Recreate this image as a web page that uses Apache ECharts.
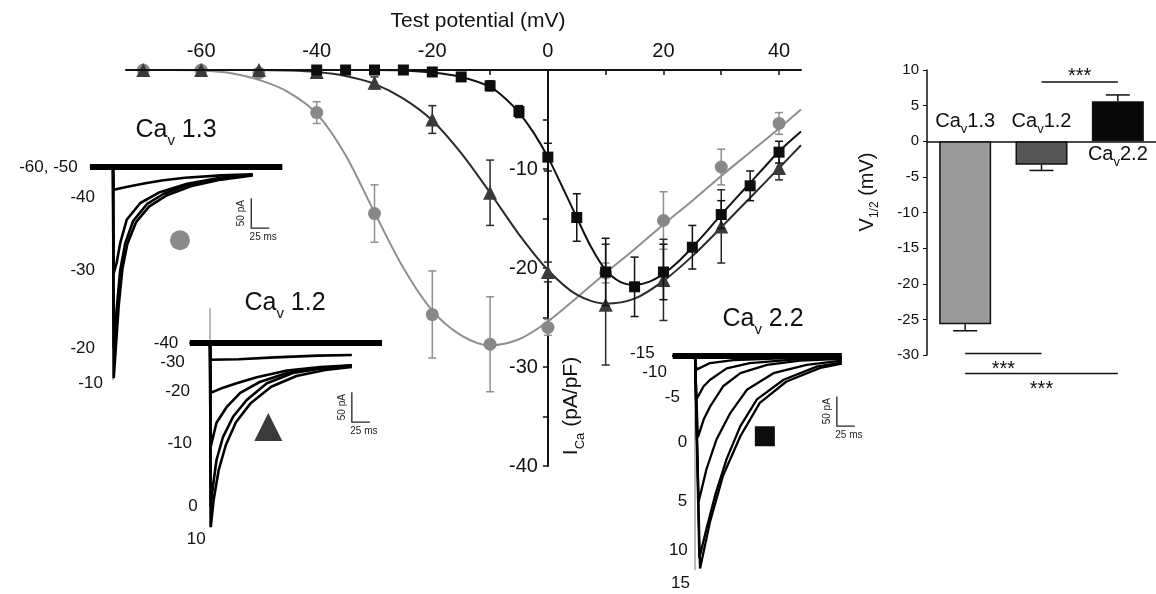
<!DOCTYPE html>
<html><head><meta charset="utf-8">
<script src="https://cdn.jsdelivr.net/npm/echarts@6/dist/echarts.min.js"></script>
<style>html,body{margin:0;padding:0;background:#fff}#c{width:1156px;height:594px}</style>
</head><body><div id="c"></div><script>
// ================= I-V relationship (main panel) =================
const xTickLabels = [-60, -40, -20, 0, 20, 40];
const xTicks = [-70, -60, -50, -40, -30, -20, -10, 0, 10, 20, 30, 40];
const yTickLabels = [-10, -20, -30, -40];
const yTicks = [-5, -10, -15, -20, -25, -30, -35, -40];

// Cav1.3 (grey circles)
const vCav13 = [-70, -60, -50, -40, -30, -20, -10, 0, 10, 20, 30, 40];
const iCav13 = [0, 0, -0.3, -4.3, -14.5, -24.7, -27.7, -26.0, -20.5, -15.2, -9.8, -5.4];
const eCav13 = [0, 0, 0.3, 1.1, 2.9, 4.4, 4.8, 0.8, 1.0, 2.9, 1.8, 1.1];
// Cav1.2 (dark triangles)
const vCav12 = [-70, -60, -50, -40, -30, -20, -10, 0, 10, 20, 30, 40];
const iCav12 = [0, 0, 0, -0.2, -1.3, -5.0, -12.4, -20.4, -23.7, -21.2, -15.8, -9.9];
const eCav12 = [0, 0, 0, 0.3, 0.6, 1.4, 3.3, 1.0, 6.1, 4.1, 3.7, 1.2];
// Cav2.2 (black squares)
const vCav22 = [-40, -35, -30, -25, -20, -15, -10, -5, 0, 5, 10, 15, 20, 25, 30, 35, 40];
const iCav22 = [0, 0, 0, 0, -0.2, -0.7, -1.6, -4.2, -8.8, -14.9, -20.4, -21.9, -20.4, -17.9, -14.6, -11.7, -8.3];
const eCav22 = [0, 0, 0, 0, 0.2, 0.3, 0.5, 0.6, 1.4, 2.4, 3.4, 3.0, 2.8, 2.2, 1.4, 1.5, 1.1];

// fitted curves
const fitV13 = [-73, -65, -60, -55, -50, -45, -40, -35, -30, -25, -20, -15, -10, -5, 0, 5, 10, 15, 20, 25, 30, 35, 40, 43.8];
const fitI13 = [0, 0, -0.05, -0.3, -1.0, -2.2, -4.4, -8.6, -14.4, -20.0, -24.3, -26.8, -27.8, -27.2, -25.4, -23.0, -20.5, -18.1, -15.6, -13.2, -10.7, -8.3, -5.9, -4.0];
const fitV12 = [-73, -65, -60, -55, -50, -45, -40, -35, -30, -25, -20, -15, -10, -5, 0, 5, 10, 15, 20, 25, 30, 35, 40, 43.8];
const fitI12 = [0, 0, 0, 0, 0, -0.05, -0.2, -0.6, -1.4, -2.9, -5.1, -8.4, -12.4, -16.6, -20.2, -22.7, -23.6, -23.1, -21.3, -18.8, -15.9, -12.9, -9.9, -7.6];
const fitV22 = [-73, -60, -50, -40, -30, -25, -20, -15, -10, -7.5, -5, -2.5, 0, 2.5, 5, 7.5, 10, 12.5, 15, 17.5, 20, 22.5, 25, 27.5, 30, 32.5, 35, 37.5, 40, 43.8];
const fitI22 = [0, 0, 0, 0, 0, -0.05, -0.25, -0.7, -1.7, -2.8, -4.3, -6.3, -8.8, -11.8, -14.9, -17.9, -20.2, -21.4, -21.7, -21.4, -20.6, -19.4, -17.9, -16.3, -14.6, -13.0, -11.4, -9.8, -8.2, -6.2];

// ================= V1/2 bar panel =================
const barCats = ['Cav1.3', 'Cav1.2', 'Cav2.2'];
const barVals = [-25.7, -3.3, 5.6];
const barErr = [0.9, 0.8, 0.9];
// significance brackets: [fromCat, toCat, level]
const sigFrom = [1, 0, 0];
const sigTo = [2, 1, 2];
const sigLevel = [8.3, -29.8, -32.6];
const sigText = ['***', '***', '***'];

// ================= current trace insets [ms, pA] =================
// Cav1.3
const tr13_m60 = [[-32, 0], [235, 0]];
const tr13_m50 = [[-32, -1], [235, -1]];
const tr13_m40 = [[-32, 0], [0, 0], [1, -38], [20, -33], [45, -27], [70, -22], [100, -18], [150, -14], [194, -12]];
const tr13_m30 = [[-32, 0], [0, 0], [1, -177], [5, -160], [10, -127], [19, -88], [38, -60], [65, -42], [103, -28], [149, -18], [194, -13]];
const tr13_m20 = [[-32, 0], [0, 0], [1, -302], [5, -238], [10, -172], [17, -127], [28, -90], [47, -62], [70, -45], [103, -30], [149, -19], [194, -13]];
const tr13_m10 = [[-32, 0], [0, 0], [1, -352], [4, -300], [8, -230], [13, -170], [20, -128], [32, -92], [50, -66], [75, -47], [108, -32], [150, -21], [194, -14]];
const on13 = [[0, 0], [0, -355]];
const lab13Text = ['-60, -50', '-40', '-30', '-20', '-10'];
const lab13T = [-49, -25, -25, -25, -14];
const lab13I = [0, -50, -173, -302, -360];
// Cav1.2
const tr12_m40 = [[-28, 0], [239, 0]];
const tr12_m30 = [[-28, 0], [0, 0], [1, -28], [40, -27], [90, -24], [150, -21], [197, -20]];
const tr12_m20 = [[-28, 0], [0, 0], [1, -83], [15, -76], [37, -67], [65, -57], [107, -46], [153, -40], [197, -37]];
const tr12_m10 = [[-28, 0], [0, 0], [1, -173], [9, -133], [23, -107], [42, -83], [69, -65], [107, -50], [153, -42], [197, -37]];
const tr12_0 = [[-28, 0], [0, 0], [1, -273], [4, -240], [9, -195], [18, -157], [32, -123], [51, -95], [79, -67], [115, -50], [157, -42], [197, -38]];
const tr12_10 = [[-28, 0], [0, 0], [1, -307], [5, -262], [12, -212], [22, -170], [36, -132], [56, -101], [85, -73], [120, -55], [160, -45], [197, -40]];
const on12 = [[0, 58], [0, -307]];
const lab12Text = ['-40', '-30', '-20', '-10', '0', '10'];
const lab12T = [-44, -35, -28, -25, -17, -6];
const lab12I = [0, -32, -80, -168, -272, -328];
// Cav2.2
const tr22_m15 = [[-31, 0], [204, 0]];
const tr22_m10 = [[-31, 0], [0, 0], [2, -23], [21, -12], [53, -7], [120, -4], [204, -3]];
const tr22_m5 = [[-31, 0], [0, 0], [2, -73], [12, -51], [21, -40], [44, -21], [76, -12], [140, -6], [204, -4]];
const tr22_0 = [[-31, 0], [0, 0], [4, -137], [12, -107], [21, -85], [39, -51], [63, -29], [100, -15], [146, -8], [204, -5]];
const tr22_5 = [[-31, 0], [0, 0], [5, -245], [16, -190], [30, -140], [49, -96], [72, -57], [109, -29], [155, -15], [204, -8]];
const tr22_10 = [[-31, 0], [0, 0], [6, -340], [16, -290], [28, -234], [44, -173], [63, -118], [86, -73], [123, -40], [169, -18], [204, -11]];
const tr22_15 = [[-31, 0], [0, 0], [7, -357], [21, -278], [39, -201], [63, -135], [90, -79], [127, -43], [174, -20], [204, -13]];
const on22 = [[0, 0], [0, -360]];
const lab22Text = ['-15', '-10', '-5', '0', '5', '10', '15'];
const lab22T = [-56, -39, -21, -11, -11, -10, -7];
const lab22I = [5, -28, -70, -145, -245, -327, -382];
// scale bars (25 ms, 50 pA) anchor [ms, pA] and inset symbol positions
const scaleMs = 25, scalePA = 50;
const sb13 = [192, -52], sb12 = [197, -82], sb22 = [197, -68];
const sym13 = [93, -122], sym12 = [81, -140], sym22 = [97, -135];

// ================= build =================
const FONT = '"Liberation Sans", Arial, sans-serif';
const INK = '#111111';
const zip = (a, b) => a.map((v, i) => [v, b[i]]);
const zip3 = (a, b, c) => a.map((v, i) => [v, b[i], c[i]]);

function errSeries(x, y, e, color, xi, yi, z, cap) {
  return {
    type: 'custom', xAxisIndex: xi, yAxisIndex: yi, z: z, clip: false,
    data: zip3(x, y, e),
    renderItem: function (params, api) {
      const xv = api.value(0), yv = api.value(1), ev = api.value(2);
      if (!ev) return null;
      const p1 = api.coord([xv, yv + ev]), p2 = api.coord([xv, yv - ev]);
      const st = { stroke: color, lineWidth: 1.5 };
      return { type: 'group', children: [
        { type: 'line', shape: { x1: p1[0], y1: p1[1], x2: p2[0], y2: p2[1] }, style: st },
        { type: 'line', shape: { x1: p1[0] - cap, y1: p1[1], x2: p1[0] + cap, y2: p1[1] }, style: st },
        { type: 'line', shape: { x1: p2[0] - cap, y1: p2[1], x2: p2[0] + cap, y2: p2[1] }, style: st }
      ] };
    }
  };
}
function fitSeries(v, i, color, z) {
  return { type: 'line', xAxisIndex: 0, yAxisIndex: 0, data: zip(v, i), showSymbol: false, smooth: 0.3,
    lineStyle: { color: color, width: 2 }, z: z, silent: true };
}
function pointSeries(v, i, symbol, size, color, z) {
  return { type: 'scatter', xAxisIndex: 0, yAxisIndex: 0, data: zip(v, i), symbol: symbol, symbolSize: size,
    itemStyle: { color: color, opacity: 1 }, z: z };
}
function traceSeries(d, idx, w, color) {
  return { type: 'line', xAxisIndex: idx, yAxisIndex: idx, data: d, showSymbol: false, smooth: false,
    lineStyle: { color: color || '#000', width: w }, z: 3, silent: true };
}
function labelSeries(idx, texts, ts, is) {
  return { type: 'scatter', xAxisIndex: idx, yAxisIndex: idx, symbolSize: 0, z: 5, itemStyle: { opacity: 1 },
    data: texts.map((t, k) => ({ value: [ts[k], is[k]], name: t })),
    label: { show: true, position: 'left', distance: 0, formatter: p => p.name, fontSize: 17, fontFamily: FONT, color: INK, opacity: 1 } };
}
function scaleSeries(idx, anchor) {
  return { type: 'custom', xAxisIndex: idx, yAxisIndex: idx, clip: false, z: 5, data: [anchor],
    renderItem: function (params, api) {
      const t0 = api.value(0), i0 = api.value(1);
      const a = api.coord([t0, i0]), b = api.coord([t0, i0 - scalePA]), c = api.coord([t0 + scaleMs, i0 - scalePA]);
      return { type: 'group', children: [
        { type: 'polyline', shape: { points: [a, b, c] }, style: { stroke: '#222', lineWidth: 1.3, fill: null } },
        { type: 'text', x: a[0] - 10, y: (a[1] + b[1]) / 2, rotation: Math.PI / 2,
          style: { text: scalePA + ' pA', fontSize: 10, fontFamily: FONT, fill: '#222', align: 'center', verticalAlign: 'middle' } },
        { type: 'text', x: (b[0] + c[0]) / 2 + 3, y: b[1] + 9,
          style: { text: scaleMs + ' ms', fontSize: 10, fontFamily: FONT, fill: '#222', align: 'center', verticalAlign: 'middle' } }
      ] };
    } };
}
function symSeries(idx, pos, symbol, size, color) {
  return { type: 'scatter', xAxisIndex: idx, yAxisIndex: idx, data: [pos], symbol: symbol, symbolSize: size,
    itemStyle: { color: color, opacity: 1 }, z: 5, silent: true };
}
function hiddenAxis(idx, min, max) { return { gridIndex: idx, type: 'value', min: min, max: max, show: false }; }

// inset geometry: 0.72 px / ms, 0.6 px / pA
const PXMS = 0.72, PXPA = 0.6;
function insetGrid(onsetX, baseY, tmin, tmax, imin, imax) {
  return { left: onsetX + tmin * PXMS, top: baseY - imax * PXPA, width: (tmax - tmin) * PXMS, height: (imax - imin) * PXPA };
}
const g13 = insetGrid(113, 167, -60, 240, -400, 20);
const g12 = insetGrid(210, 343, -60, 240, -340, 60);
const g22 = insetGrid(695, 356, -60, 240, -400, 20);

const richCa = (big, small) => ({
  a: { fontSize: big, fontFamily: FONT, color: INK, fill: INK, lineHeight: big + 6, verticalAlign: 'top' },
  s: { fontSize: small, fontFamily: FONT, color: INK, fill: INK, lineHeight: small, padding: [Math.round(big * 0.62), 0, 0, 0], verticalAlign: 'top' }
});
const caText = name => '{a|' + name.slice(0, 2) + '}{s|v}{a|' + name.slice(3) + '}';

const MAIN_LEFT = 126, MAIN_W = 675, XMIN = -73, XMAX = 43.8;
const yAxisOffset = -(0 - XMIN) / (XMAX - XMIN) * MAIN_W;

const option = {
  backgroundColor: '#fff',
  animation: false,
  textStyle: { fontFamily: FONT },
  grid: [
    { left: MAIN_LEFT, top: 70, width: MAIN_W, height: 396 },
    { left: 927, top: 70, width: 229, height: 285 },
    g13, g12, g22
  ],
  xAxis: [
    { gridIndex: 0, type: 'value', position: 'top', min: XMIN, max: XMAX,
      axisLine: { onZero: false, lineStyle: { color: INK, width: 2 } },
      axisTick: { inside: true, length: 5, customValues: xTicks, lineStyle: { color: INK, width: 1.5 } },
      axisLabel: { customValues: xTickLabels, fontSize: 20, color: INK, margin: 9, fontFamily: FONT },
      splitLine: { show: false } },
    { gridIndex: 1, type: 'category', data: barCats,
      axisLine: { onZero: true, lineStyle: { color: INK, width: 1.5 } },
      axisTick: { show: false }, axisLabel: { show: false } },
    hiddenAxis(2, -60, 240), hiddenAxis(3, -60, 240), hiddenAxis(4, -60, 240)
  ],
  yAxis: [
    { gridIndex: 0, type: 'value', min: -40, max: 0, position: 'left', offset: yAxisOffset,
      axisLine: { show: true, onZero: false, lineStyle: { color: INK, width: 2 } },
      axisTick: { show: true, length: 5, customValues: yTicks, lineStyle: { color: INK, width: 1.5 } },
      axisLabel: { customValues: yTickLabels, fontSize: 20, color: INK, margin: 10, fontFamily: FONT },
      splitLine: { show: false } },
    { gridIndex: 1, type: 'value', min: -30, max: 10, interval: 5,
      axisLine: { show: true, onZero: false, lineStyle: { color: INK, width: 1.5 } },
      axisTick: { show: true, length: 4, lineStyle: { color: INK } },
      axisLabel: { fontSize: 15, color: INK, margin: 8, fontFamily: FONT },
      splitLine: { show: false } },
    hiddenAxis(2, -400, 20), hiddenAxis(3, -340, 60), hiddenAxis(4, -400, 20)
  ],
  series: [
    // ---- main IV ----
    fitSeries(fitV13, fitI13, '#8f8f8f', 2),
    errSeries(vCav13, iCav13, eCav13, '#8f8f8f', 0, 0, 3, 4),
    pointSeries(vCav13, iCav13, 'circle', 13, '#888888', 4),
    fitSeries(fitV12, fitI12, '#2b2b2b', 5),
    errSeries(vCav12, iCav12, eCav12, '#2b2b2b', 0, 0, 6, 4),
    pointSeries(vCav12, iCav12, 'triangle', 14, '#3a3a3a', 7),
    fitSeries(fitV22, fitI22, '#111', 8),
    errSeries(vCav22, iCav22, eCav22, '#111', 0, 0, 9, 4),
    pointSeries(vCav22, iCav22, 'rect', 11, '#0d0d0d', 10),

    // ---- V1/2 bars ----
    { type: 'bar', xAxisIndex: 1, yAxisIndex: 1, barWidth: 52, z: 2,
      data: barVals.map((v, k) => ({ value: v, itemStyle: { color: ['#9a9a9a', '#555555', '#080808'][k], borderColor: '#111', borderWidth: 1.5 } })) },
    { type: 'custom', xAxisIndex: 1, yAxisIndex: 1, z: 3, clip: false,
      data: barVals.map((v, k) => [k, v, barErr[k]]),
      renderItem: function (params, api) {
        const k = api.value(0), v = api.value(1), e = api.value(2);
        const end = v >= 0 ? v + e : v - e;
        const p1 = api.coord([k, v]), p2 = api.coord([k, end]);
        const st = { stroke: '#111', lineWidth: 1.5 };
        return { type: 'group', children: [
          { type: 'line', shape: { x1: p1[0], y1: p1[1], x2: p2[0], y2: p2[1] }, style: st },
          { type: 'line', shape: { x1: p2[0] - 12, y1: p2[1], x2: p2[0] + 12, y2: p2[1] }, style: st }
        ] };
      } },
    // category names next to the zero line
    { type: 'custom', xAxisIndex: 1, yAxisIndex: 1, z: 6, clip: false,
      data: barCats.map((c, k) => [k, 0]),
      renderItem: function (params, api) {
        const k = api.value(0);
        const p = api.coord([k, 0]);
        const below = barVals[k] > 0;
        return { type: 'text', x: p[0], y: below ? p[1] + 16 : p[1] - 17,
          style: { text: caText(barCats[k]), rich: richCa(20, 13), fill: INK, align: 'center', verticalAlign: 'middle' } };
      } },
    { type: 'custom', xAxisIndex: 1, yAxisIndex: 1, z: 6, clip: false,
      data: sigFrom.map((f, k) => [f, sigTo[k], sigLevel[k], k]),
      renderItem: function (params, api) {
        const a = api.coord([api.value(0), api.value(2)]), b = api.coord([api.value(1), api.value(2)]);
        const above = api.value(2) > 0;
        return { type: 'group', children: [
          { type: 'line', shape: { x1: a[0], y1: a[1], x2: b[0], y2: b[1] }, style: { stroke: '#111', lineWidth: 1.5 } },
          { type: 'text', x: (a[0] + b[0]) / 2, y: above ? a[1] - 6 : a[1] + 16,
            style: { text: sigText[api.value(3)], fontSize: 20, fontFamily: FONT, fill: '#111', align: 'center', verticalAlign: 'middle' } }
        ] };
      } },

    // ---- Cav1.3 inset ----
    traceSeries(on13, 2, 1, '#777'),
    traceSeries(tr13_m60, 2, 6), traceSeries(tr13_m50, 2, 4),
    traceSeries(tr13_m40, 2, 2.6), traceSeries(tr13_m30, 2, 2.6), traceSeries(tr13_m20, 2, 2.6), traceSeries(tr13_m10, 2, 2.6),
    labelSeries(2, lab13Text, lab13T, lab13I),
    scaleSeries(2, sb13),
    symSeries(2, sym13, 'circle', 20, '#8a8a8a'),
    // ---- Cav1.2 inset ----
    traceSeries(on12, 3, 1, '#777'),
    traceSeries(tr12_m40, 3, 6),
    traceSeries(tr12_m30, 3, 2.6), traceSeries(tr12_m20, 3, 2.6), traceSeries(tr12_m10, 3, 2.6), traceSeries(tr12_0, 3, 2.6), traceSeries(tr12_10, 3, 2.6),
    labelSeries(3, lab12Text, lab12T, lab12I),
    scaleSeries(3, sb12),
    symSeries(3, sym12, 'triangle', 28, '#3a3a3a'),
    // ---- Cav2.2 inset ----
    traceSeries(on22, 4, 1, '#777'),
    traceSeries(tr22_m15, 4, 6),
    traceSeries(tr22_m10, 4, 2.3), traceSeries(tr22_m5, 4, 2.3), traceSeries(tr22_0, 4, 2.3), traceSeries(tr22_5, 4, 2.3), traceSeries(tr22_10, 4, 2.3), traceSeries(tr22_15, 4, 2.3),
    labelSeries(4, lab22Text, lab22T, lab22I),
    scaleSeries(4, sb22),
    symSeries(4, sym22, 'rect', 20, '#0d0d0d')
  ],
  graphic: [
    { type: 'text', x: 478, y: 21, style: { text: 'Test potential (mV)', fontSize: 21, fontFamily: FONT, fill: INK, align: 'center', verticalAlign: 'middle' } },
    { type: 'text', x: 574, y: 406, rotation: Math.PI / 2,
      style: { text: '{a|I}{s|Ca}{a| (pA/pF)}', rich: richCa(21, 13), align: 'center', verticalAlign: 'middle' } },
    { type: 'text', x: 870, y: 192, rotation: Math.PI / 2,
      style: { text: '{a|V}{s|1/2}{a| (mV)}', rich: richCa(20, 12), align: 'center', verticalAlign: 'middle' } },
    { type: 'text', x: 176, y: 133, style: { text: '{a|Ca}{s|v}{a| 1.3}', rich: richCa(25, 15), align: 'center', verticalAlign: 'middle' } },
    { type: 'text', x: 285, y: 306, style: { text: '{a|Ca}{s|v}{a| 1.2}', rich: richCa(25, 15), align: 'center', verticalAlign: 'middle' } },
    { type: 'text', x: 763, y: 322, style: { text: '{a|Ca}{s|v}{a| 2.2}', rich: richCa(25, 15), align: 'center', verticalAlign: 'middle' } }
  ]
};
const chart = echarts.init(document.getElementById('c'), null, { renderer: 'canvas' });
chart.setOption(option);
</script></body></html>
